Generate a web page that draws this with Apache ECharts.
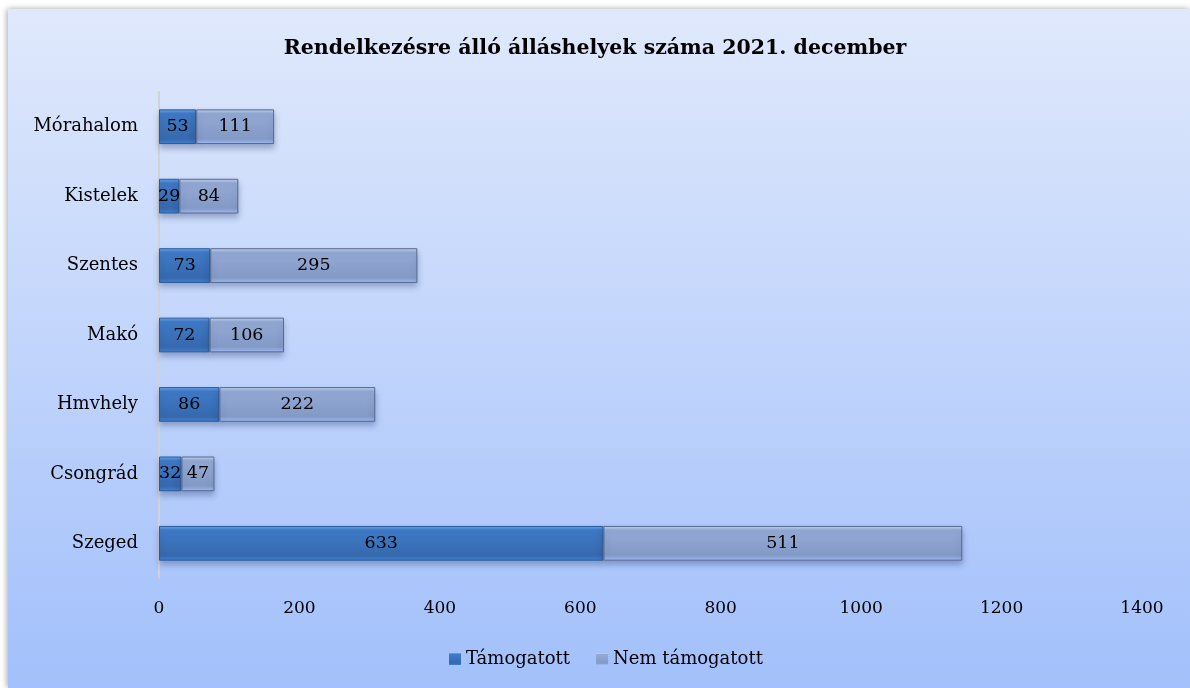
<!DOCTYPE html>
<html><head><meta charset="utf-8">
<script src="https://cdn.jsdelivr.net/npm/echarts@6/dist/echarts.min.js"></script>
<style>html,body{margin:0;padding:0;background:#fff}#c{width:1190px;height:688px}</style>
</head><body><div id="c"></div>
<script>
const categories = ['Szeged','Csongrád','Hmvhely','Makó','Szentes','Kistelek','Mórahalom'];
const supported = [633,32,86,72,73,29,53];
const notSupported = [511,47,222,106,295,84,111];
const xTicks = [0,200,400,600,800,1000,1200,1400];
const FONT = 'DejaVu Serif, serif';
const chart = echarts.init(document.getElementById('c'));
const grad = (a,b,c) => new echarts.graphic.LinearGradient(0,0,0,1,[
  {offset:0,color:a},{offset:0.12,color:b},{offset:0.85,color:c},{offset:1,color:echarts.color.lift(c,-0.25)}]);
chart.setOption({
  animation:false,
  graphic:[{type:'rect',z:-10,shape:{x:8,y:9,width:1182,height:679},
    style:{fill:new echarts.graphic.LinearGradient(0,0,0,1,[{offset:0,color:'#e0e9fc'},{offset:1,color:'#a2c0fb'}]),
      shadowBlur:6,shadowColor:'rgba(0,0,0,0.35)',shadowOffsetX:-1}}],
  title:{text:'Rendelkezésre álló álláshelyek száma 2021. december',left:'center',top:33,
    textStyle:{fontFamily:FONT,fontWeight:'bold',fontSize:20.5,color:'#000'}},
  legend:{bottom:15,left:444,itemWidth:12,itemHeight:12,itemGap:26,itemStyle:{borderWidth:0},icon:'rect',
    textStyle:{fontFamily:FONT,fontSize:18,color:'#000'}},
  grid:{left:159,right:48,top:92,bottom:110},
  xAxis:{type:'value',min:0,max:1400,interval:200,axisLine:{show:false},axisTick:{show:false},splitLine:{show:false},
    axisLabel:{fontFamily:FONT,fontSize:17,color:'#000',margin:22,
      formatter:v=>xTicks.includes(v)?String(v):''}},
  yAxis:{type:'category',data:categories,axisTick:{show:false},
    axisLine:{lineStyle:{color:'#d2d2d2',width:2}},
    axisLabel:{fontFamily:FONT,fontSize:18,color:'#000',margin:21}},
  series:[
    {name:'Támogatott',type:'bar',stack:'a',data:supported,barWidth:'50%',
     itemStyle:{color:grad('#6ea8ee','#3f7bc8','#3669ad'),borderColor:'#2d5a94',borderWidth:1,
       shadowBlur:6,shadowOffsetY:4,shadowColor:'rgba(40,60,110,0.35)'},
     label:{show:true,position:'inside',fontFamily:FONT,fontSize:17.5,color:'#000'}},
    {name:'Nem támogatott',type:'bar',stack:'a',data:notSupported,barWidth:'50%',
     itemStyle:{color:grad('#c8d8f3','#95abd5','#8399c6'),borderColor:'#56698e',borderWidth:1,
       shadowBlur:6,shadowOffsetY:4,shadowColor:'rgba(40,60,110,0.35)'},
     label:{show:true,position:'inside',fontFamily:FONT,fontSize:17.5,color:'#000'}}
  ]
});
</script></body></html>
